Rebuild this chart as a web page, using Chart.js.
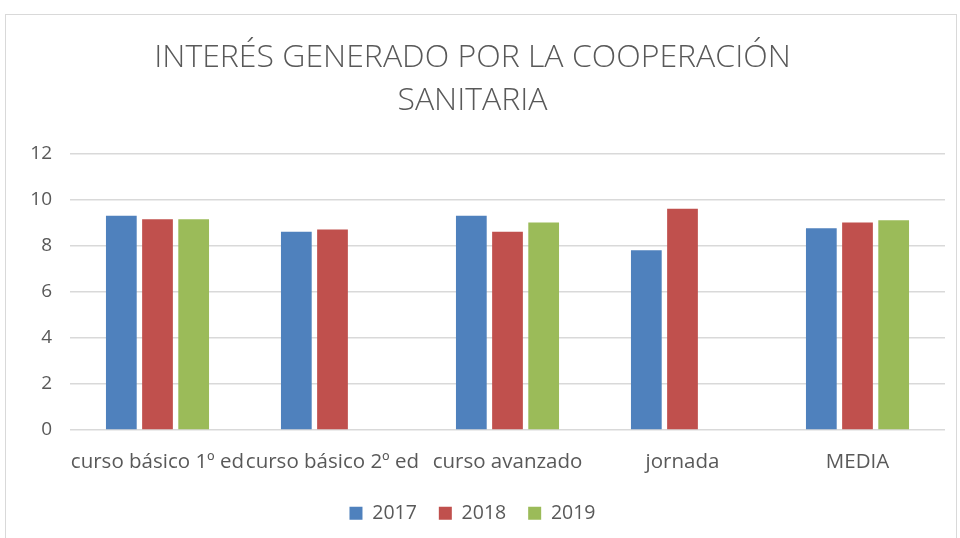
<!DOCTYPE html>
<html>
<head>
<meta charset="utf-8">
<script src="https://cdn.jsdelivr.net/npm/chart.js@4.4.1/dist/chart.umd.min.js"></script>
<style>
	html, body { margin: 0; padding: 0; background: #fff; }
	#wrap { position: relative; width: 960px; height: 538px; }
	#frame { position: absolute; left: 5px; top: 14px; width: 950px; height: 530px; border: 1px solid #d9d9d9; pointer-events: none; }
</style>
</head>
<body>
<div id="wrap">
	<canvas id="grafico" width="960" height="538"></canvas>
	<div id="frame"></div>
</div>
<script>
var categorias = ['curso básico 1º ed', 'curso básico 2º ed', 'curso avanzado', 'jornada', 'MEDIA'];
var valores2017 = [9.3, 8.6, 9.3, 7.8, 8.75];
var valores2018 = [9.15, 8.7, 8.6, 9.6, 9.0];
var valores2019 = [9.15, null, 9.0, null, 9.1];
var ticksY = [0, 2, 4, 6, 8, 10, 12];

var gris = '#595959';
var fuente = 'Open Sans';

var chartdata = {
	labels: categorias,
	datasets: [
		{ label: '2017', backgroundColor: '#4f81bd', data: valores2017 },
		{ label: '2018', backgroundColor: '#c0504d', data: valores2018 },
		{ label: '2019', backgroundColor: '#9bbb59', data: valores2019 }
	]
};

var ctx = document.getElementById('grafico');

var barGraph = new Chart(ctx, {
	type: 'bar',
	data: chartdata,
	options: {
		responsive: false,
		animation: false,
		layout: { padding: { left: 0, right: 15, top: 0, bottom: 5 } },
		datasets: { bar: { categoryPercentage: 0.62, barPercentage: 0.85 } },
		plugins: {
			title: {
				display: true,
				text: ['INTERÉS GENERADO POR LA COOPERACIÓN', 'SANITARIA'],
				color: gris,
				font: { family: fuente, size: 32, weight: '300', lineHeight: 43 / 32 },
				padding: { top: 36.5, bottom: 31 }
			},
			legend: {
				position: 'bottom',
				labels: {
					color: gris,
					boxWidth: 13,
					boxHeight: 13,
					padding: 22,
					font: { family: fuente, size: 19.5 }
				}
			},
			tooltip: { enabled: false }
		},
		scales: {
			x: {
				grid: { display: false },
				border: { display: false },
				afterFit: function(scale) { scale.height -= 5; },
				ticks: {
					color: gris,
					autoSkip: false,
					maxRotation: 0,
					minRotation: 0,
					padding: 12,
					font: { family: fuente, size: 20.5 }
				}
			},
			y: {
				min: 0,
				max: 12,
				afterFit: function(scale) { scale.width = 70; },
				afterBuildTicks: function(scale) {
					scale.ticks = ticksY.map(function(v) { return { value: v }; });
				},
				grid: { color: '#d9d9d9', lineWidth: 1.5, drawTicks: false },
				border: { display: false },
				ticks: {
					color: gris,
					padding: 18,
					font: { family: fuente, size: 19 }
				}
			}
		}
	}
});
</script>
</body>
</html>
